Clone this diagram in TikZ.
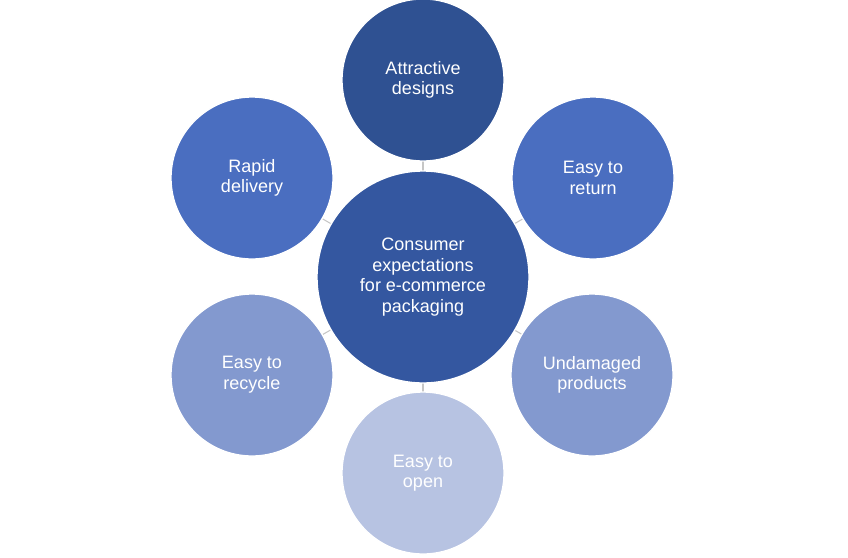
\documentclass[tikz,border=0pt]{standalone}
\usepackage{fontspec}
\setmainfont{Liberation Sans}
\definecolor{cTop}{HTML}{2F5192}
\definecolor{cCen}{HTML}{3457A0}
\definecolor{cMid}{HTML}{4A6EC0}
\definecolor{cLight}{HTML}{8399CF}
\definecolor{cPale}{HTML}{B7C3E2}
\begin{document}
\begin{tikzpicture}[x=0.75pt,y=-0.75pt,
  bub/.style={circle,draw=white,line width=1pt,text=white,align=center,font=\fontsize{13.5}{15.5}\selectfont,inner sep=0pt,minimum size=162*0.75pt},
  link/.style={draw=gray!45,line width=0.8pt}]
\useasboundingbox (0,0) rectangle (848,557);
\coordinate (cc) at (423,277);
\foreach \n/\x/\y in {a/423/80,b/593/178,c/592/375,d/423/473,e/252/375,f/252/178}
  \draw[link] (cc) -- (\x,\y);
\node[bub,fill=cTop] (a) at (423,80) {Attractive\\designs};
\node[bub,fill=cMid] (b) at (593,178) {Easy to\\return};
\node[bub,fill=cLight] (c) at (592,375) {Undamaged\\products};
\node[bub,fill=cPale] (d) at (423,473) {Easy to\\open};
\node[bub,fill=cLight] (e) at (252,375) {Easy to\\recycle};
\node[bub,fill=cMid] (f) at (252,178) {Rapid\\delivery};
\node[bub,fill=cCen,minimum size=212*0.75pt] (cen) at (cc) {Consumer\\expectations\\for e-commerce\\packaging};
\end{tikzpicture}
\end{document}
